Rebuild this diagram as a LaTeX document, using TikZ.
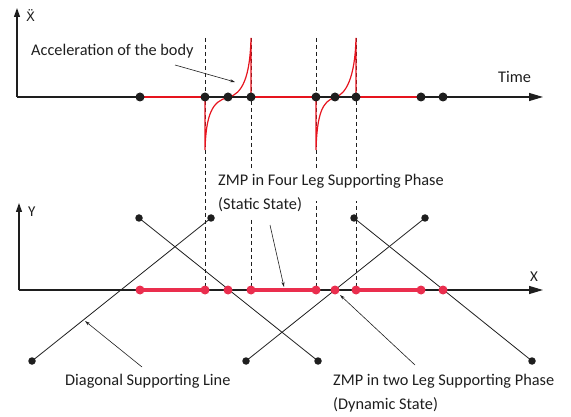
\documentclass[tikz,border=0pt]{standalone}
\usepackage{fontspec}
\setmainfont{Carlito}
\newfontfamily\dejavu{DejaVu Sans}
\usetikzlibrary{arrows.meta}
\definecolor{curvered}{RGB}{230,20,30}
\definecolor{zmpred}{RGB}{234,46,78}
\definecolor{ink}{RGB}{30,30,30}
\begin{document}
\begin{tikzpicture}[x=1pt,y=-1pt,
  lbl/.style={font=\fontsize{16.3}{18}\selectfont, inner sep=0pt, anchor=base west, text=ink},
  axlbl/.style={font=\fontsize{15}{17}\selectfont, inner sep=0pt, anchor=base west, text=ink},
  bdot/.style={circle,fill=ink,inner sep=0pt,minimum size=9pt},
  rdot/.style={circle,fill=zmpred,inner sep=0pt,minimum size=9pt},
  edot/.style={circle,fill=ink,inner sep=0pt,minimum size=7.5pt},
  axisline/.style={draw=ink,line width=1.1pt,-{Triangle[length=14pt,width=8pt]}},
  vaxis/.style={draw=ink,line width=1.1pt,-{Triangle[length=9pt,width=6pt]}},
  guide/.style={draw=ink,dash pattern=on 4pt off 3pt,line width=0.6pt},
  note/.style={draw=ink,line width=0.6pt,-{Stealth[length=5pt,width=3pt]}},
  diag/.style={draw=ink,line width=0.8pt},
  accel/.style={draw=curvered,line width=1.2pt},
  zmpseg/.style={draw=zmpred,line width=3.5pt}
]
\useasboundingbox (0,0) rectangle (571,417);

% dashed guide lines
\foreach \gx/\gn in {205/a,251/b,316/c,356/d}{
  \coordinate (gt\gn) at (\gx,38);
  \coordinate (gb\gn) at (\gx,290);
  \draw[guide] (gt\gn) -- (gb\gn);
}
% white masks behind the static-state label
\fill[white] (214,168) rectangle (452,201);
\fill[white] (214,195) rectangle (304,217);

% top axes
\coordinate (o1) at (17,97);
\coordinate (ytop1) at (17,8);
\coordinate (xend1) at (543,97);
\draw[vaxis] (o1) -- (ytop1);
\draw[axisline] (o1) -- (xend1);

% bottom axes
\coordinate (o2) at (19,290);
\coordinate (ytop2) at (19,203);
\coordinate (xend2) at (543,290);
\draw[vaxis] (o2) -- (ytop2);
\draw[axisline] (o2) -- (xend2);

% top red baseline segments
\foreach \xa/\xb in {140/205,251/316,356/421}{
  \draw[accel] (\xa,97) -- (\xb,97);
}
% acceleration curves
\draw[accel] (205,97) -- (205,150) .. controls (206,115) and (212,101) .. (228,97.5)
  .. controls (242,94) and (250,78) .. (251,38) -- (251,97);
\draw[accel] (316,97) -- (316,150) .. controls (317,115) and (322,101) .. (335,97.5)
  .. controls (346,94) and (355,78) .. (356,38) -- (356,97);

% bottom thick ZMP segments
\foreach \xa/\xb in {140/205,251/316,356/421}{
  \draw[zmpseg] (\xa,290) -- (\xb,290);
}

% diagonal supporting lines
\node[edot] (a1) at (139,218) {};
\node[edot] (a2) at (318,361) {};
\node[edot] (b1) at (211,218) {};
\node[edot] (b2) at (32,361) {};
\node[edot] (c1) at (246,361) {};
\node[edot] (c2) at (425,218) {};
\node[edot] (d1) at (354,218) {};
\node[edot] (d2) at (532,361) {};
\draw[diag] (a1.center) -- (a2.center);
\draw[diag] (b1.center) -- (b2.center);
\draw[diag] (c1.center) -- (c2.center);
\draw[diag] (d1.center) -- (d2.center);

% top dots
\foreach \px [count=\i] in {140,205,228,251,316,335,356,421,443}{
  \node[bdot] (t\i) at (\px,97) {};
}
% bottom dots
\foreach \px [count=\i] in {140,205,228,251,316,335,356,421,443}{
  \node[rdot] (z\i) at (\px,290) {};
}

% labels
\node[axlbl] (xdd) at (26,22) {\dejavu\fontsize{13}{15}\selectfont Ẍ};
\node[lbl] (acc) at (31,56) {Acceleration of the body};
\node[lbl] (time) at (498,83) {Time};
\node[axlbl] (ylab) at (28,217) {Y};
\node[axlbl] (xlab) at (530,282) {X};
\node[lbl] (four) at (218,186) {ZMP in Four Leg Supporting Phase};
\node[lbl] (stat) at (218,210) {(Static State)};
\node[lbl] (diagl) at (65,385) {Diagonal Supporting Line};
\node[lbl] (two) at (333,385) {ZMP in two Leg Supporting Phase};
\node[lbl] (dyn) at (333,409) {(Dynamic State)};

% annotation arrows
\coordinate (accS) at (175,65);  \coordinate (accE) at (235,82);
\coordinate (stS) at (270,225);  \coordinate (stE) at (284,287);
\coordinate (dgS) at (142,367);  \coordinate (dgE) at (85,321);
\coordinate (dyS) at (415,365);  \coordinate (dyE) at (340,295);
\draw[note] (accS) -- (accE);
\draw[note] (stS) -- (stE);
\draw[note] (dgS) -- (dgE);
\draw[note] (dyS) -- (dyE);
\end{tikzpicture}
\end{document}
